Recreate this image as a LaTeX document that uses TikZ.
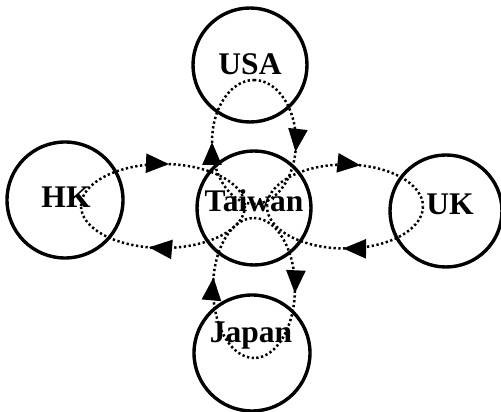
\documentclass[tikz,border=0pt]{standalone}
\usepackage{fontspec}
\setmainfont{Liberation Serif}
\usetikzlibrary{arrows.meta,decorations.markings,calc}
\begin{document}
\begin{tikzpicture}[x=1pt,y=1pt,
  country/.style={circle,draw,line width=3.4pt,minimum size=#1,inner sep=0pt},
  countryname/.style={anchor=base,font=\fontsize{31.5}{36}\selectfont\bfseries,inner sep=0pt},
  flow/.style={line width=2.5pt,dash pattern=on 2.3pt off 2.5pt},
  tipat/.style={postaction={decorate},decoration={markings,
    mark=at position #1 with {\arrow{Triangle[length=23pt,width=19pt]}}}}
]
\useasboundingbox (0,0) rectangle (501,412);

% countries
\node[country=114pt] (usa) at (250,347) {};
\node[country=114pt] (tw)  at (254,204) {};
\node[country=116pt] (hk)  at (65,212) {};
\node[country=112pt] (uk)  at (446,201) {};
\node[country=116pt] (jp)  at (252,59) {};

% names
\node[countryname] (usa-t) at (250,337) {USA};
\node[countryname] (hk-t)  at (66,204) {HK};
\node[countryname] (tw-t)  at (254,200) {Taiwan};
\node[countryname] (uk-t)  at (450,197) {UK};
\node[countryname] (jp-t)  at (251,69) {Japan};

% HK <-> Taiwan
\draw[flow,tipat=0.53] ($(hk.center)+(16,-6)$)
  arc[start angle=180,end angle=0,x radius=82,y radius=42];
\draw[flow,tipat=0.57] ($(hk.center)+(180,-6)$)
  arc[start angle=0,end angle=-180,x radius=82,y radius=42];

% Taiwan <-> UK
\draw[flow,tipat=0.58] ($(tw.center)+(13,1.5)$)
  arc[start angle=180,end angle=0,x radius=78,y radius=42];
\draw[flow,tipat=0.51] ($(uk.center)+(-23,4.5)$)
  arc[start angle=0,end angle=-180,x radius=78,y radius=42];

% Taiwan <-> USA
\draw[flow,tipat=0.5] ($(tw.center)+(0,4)$)
  arc[start angle=270,end angle=90,x radius=42,y radius=62];
\draw[flow,tipat=0.56] ($(usa.center)+(4,-15)$)
  arc[start angle=90,end angle=-90,x radius=42,y radius=62];

% Japan <-> Taiwan
\draw[flow,tipat=0.56] ($(jp.center)+(2,-5)$)
  arc[start angle=270,end angle=90,x radius=41,y radius=70];
\draw[flow,tipat=0.53] ($(tw.center)+(0,-10)$)
  arc[start angle=90,end angle=-90,x radius=41,y radius=70];
\end{tikzpicture}
\end{document}
